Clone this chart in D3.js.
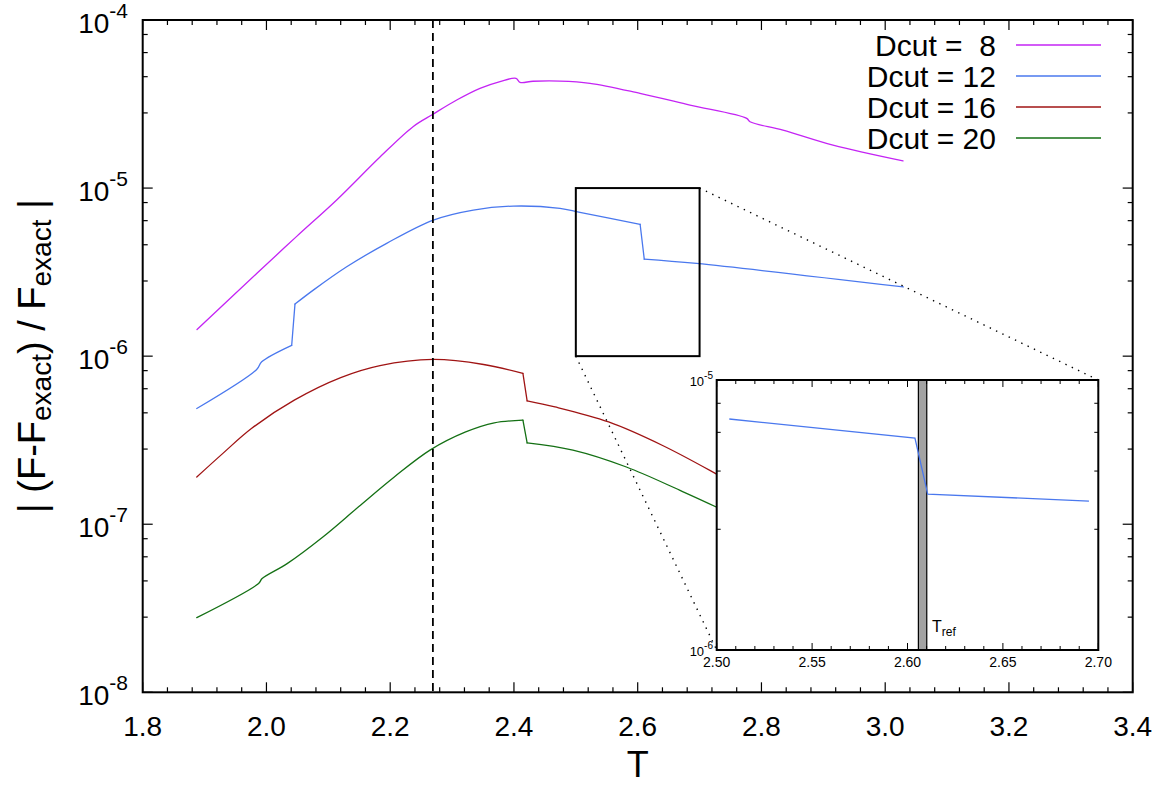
<!DOCTYPE html>
<html>
<head>
<meta charset="utf-8">
<script src="https://cdn.jsdelivr.net/npm/d3@7"></script>
<style>
  html, body { margin: 0; padding: 0; background: #fff; }
  svg { display: block; font-family: "Liberation Sans", Arial, Helvetica, sans-serif; }
  text { white-space: pre; }
</style>
</head>
<body>
<svg id="chart" width="1170" height="785"></svg>
<script>
// ---------------- data ----------------
const seriesNames = ["Dcut =  8", "Dcut = 12", "Dcut = 16", "Dcut = 20"];
const seriesColors = ["#c424f4", "#4a78ee", "#a01414", "#147014"];

const T8 = [1.8878, 1.9842, 2.0489, 2.1135, 2.1835, 2.2369, 2.2692, 2.3075, 2.3451, 2.3775, 2.4033, 2.4098, 2.4308, 2.4744, 2.5229, 2.6037, 2.6845, 2.7762, 2.7815, 2.8348, 2.9156, 3.0288];
const V8 = [1.44e-6, 3.10e-6, 5.16e-6, 8.49e-6, 1.53e-5, 2.32e-5, 2.75e-5, 3.34e-5, 3.92e-5, 4.30e-5, 4.50e-5, 4.26e-5, 4.32e-5, 4.33e-5, 4.20e-5, 3.66e-5, 3.12e-5, 2.60e-5, 2.48e-5, 2.21e-5, 1.80e-5, 1.45e-5];

const T12 = [1.8874, 1.9842, 1.9923, 2.0408, 2.0461, 2.0757, 2.1297, 2.1943, 2.2697, 2.3343, 2.3989, 2.4744, 2.5066, 2.6039, 2.6106, 2.6951, 3.0293];
const V12 = [4.88e-7, 8.33e-7, 9.25e-7, 1.16e-6, 2.04e-6, 2.47e-6, 3.40e-6, 4.69e-6, 6.45e-6, 7.40e-6, 7.81e-6, 7.57e-6, 7.17e-6, 6.09e-6, 3.78e-6, 3.56e-6, 2.58e-6];

const T16 = [1.8874, 1.9296, 1.9757, 2.0450, 2.1200, 2.1835, 2.2692, 2.3509, 2.4145, 2.4213, 2.4663, 2.5530, 2.6394, 2.7261, 2.85, 3.03];
const V16 = [1.91e-7, 2.64e-7, 3.71e-7, 5.47e-7, 7.45e-7, 8.78e-7, 9.56e-7, 8.92e-7, 7.89e-7, 5.42e-7, 4.99e-7, 4.06e-7, 2.95e-7, 2.00e-7, 1.10e-7, 5.0e-8];

const T20 = [1.8874, 1.9873, 1.9930, 2.0334, 2.0912, 2.1489, 2.2066, 2.2643, 2.3220, 2.3682, 2.4145, 2.4213, 2.4953, 2.5817, 2.6684, 2.7261, 2.85, 3.03];
const V20 = [2.78e-8, 4.44e-8, 4.75e-8, 5.83e-8, 8.40e-8, 1.27e-7, 1.91e-7, 2.76e-7, 3.54e-7, 4.01e-7, 4.16e-7, 3.05e-7, 2.76e-7, 2.19e-7, 1.59e-7, 1.27e-7, 7.5e-8, 3.5e-8];

const xTickValues = [1.8, 2.0, 2.2, 2.4, 2.6, 2.8, 3.0, 3.2, 3.4];
const xTickLabels = ["1.8", "2.0", "2.2", "2.4", "2.6", "2.8", "3.0", "3.2", "3.4"];
const yTickExponents = [-8, -7, -6, -5, -4];
const minorMantissas = [2.8, 4.6, 6.4, 8.2];

const Tc = 2.269;                    // dashed vertical line
const zoomBoxT = [2.5, 2.7];         // zoom window in T
const zoomBoxV = [1e-6, 1e-5];       // zoom window in value
const insetTickValues = [2.50, 2.55, 2.60, 2.65, 2.70];
const insetTickLabels = ["2.50", "2.55", "2.60", "2.65", "2.70"];
const insetYExponents = [-6, -5];
const Tref = [2.6057, 2.6101];       // grey band in inset

// ---------------- layout ----------------
const svg = d3.select("#chart");
svg.append("rect").attr("width", 1170).attr("height", 785).attr("fill", "#fff");

const M = { left: 142.7, right: 1132.7, top: 20, bottom: 692.3 };
const x = d3.scaleLinear().domain([1.8, 3.4]).range([M.left, M.right]);
const y = d3.scaleLog().domain([1e-8, 1e-4]).range([M.bottom, M.top]);

const series = [
  { name: seriesNames[0], color: seriesColors[0], data: d3.zip(T8, V8) },
  { name: seriesNames[1], color: seriesColors[1], data: d3.zip(T12, V12) },
  { name: seriesNames[2], color: seriesColors[2], data: d3.zip(T16, V16) },
  { name: seriesNames[3], color: seriesColors[3], data: d3.zip(T20, V20) }
];

// ---------- curves (smooth runs, straight jumps) ----------
const smooth = d3.line().x(d => x(d[0])).y(d => y(d[1])).curve(d3.curveCatmullRom.alpha(0.5));
const straight = d3.line().x(d => x(d[0])).y(d => y(d[1]));
const gCurves = svg.append("g");
series.forEach(s => {
  const runs = [], jumps = [];
  let cur = [s.data[0]];
  for (let i = 1; i < s.data.length; i++) {
    const a = s.data[i - 1], b = s.data[i];
    const dx = Math.abs(x(b[0]) - x(a[0])), dy = Math.abs(y(b[1]) - y(a[1]));
    if (dx < 8 && dy > 10) { runs.push(cur); jumps.push([a, b]); cur = [b]; }
    else cur.push(b);
  }
  runs.push(cur);
  runs.forEach(r => gCurves.append("path").attr("d", smooth(r)).attr("fill", "none")
    .attr("stroke", s.color).attr("stroke-width", 1.3).attr("stroke-linecap", "round"));
  jumps.forEach(j => gCurves.append("path").attr("d", straight(j)).attr("fill", "none")
    .attr("stroke", s.color).attr("stroke-width", 1.3).attr("stroke-linecap", "round"));
});

// ---------- dashed Tc line ----------
svg.append("line").attr("x1", x(Tc)).attr("x2", x(Tc)).attr("y1", M.top).attr("y2", M.bottom)
  .attr("stroke", "#000").attr("stroke-width", 1.8).attr("stroke-dasharray", "8,5");

// ---------- frame and ticks ----------
const gAxes = svg.append("g");
const majorLen = 10, minorLen = 5;
const xMinor = d3.range(0, 41).map(i => 1.8 + i * 0.04).filter((v, i) => i % 5 !== 0);
function tickX(v, len) {
  gAxes.append("line").attr("x1", x(v)).attr("x2", x(v)).attr("y1", M.bottom).attr("y2", M.bottom - len)
    .attr("stroke", "#000").attr("stroke-width", 1.2);
  gAxes.append("line").attr("x1", x(v)).attr("x2", x(v)).attr("y1", M.top).attr("y2", M.top + len)
    .attr("stroke", "#000").attr("stroke-width", 1.2);
}
function tickY(v, len) {
  gAxes.append("line").attr("x1", M.left).attr("x2", M.left + len).attr("y1", y(v)).attr("y2", y(v))
    .attr("stroke", "#000").attr("stroke-width", 1.2);
  gAxes.append("line").attr("x1", M.right).attr("x2", M.right - len).attr("y1", y(v)).attr("y2", y(v))
    .attr("stroke", "#000").attr("stroke-width", 1.2);
}
xTickValues.forEach(v => tickX(v, majorLen));
xMinor.forEach(v => tickX(v, minorLen));
yTickExponents.forEach(e => tickY(Math.pow(10, e), majorLen));
yTickExponents.slice(0, -1).forEach(e => minorMantissas.forEach(m => tickY(m * Math.pow(10, e), minorLen)));

gAxes.append("rect").attr("x", M.left).attr("y", M.top).attr("width", M.right - M.left).attr("height", M.bottom - M.top)
  .attr("fill", "none").attr("stroke", "#000").attr("stroke-width", 2);

// tick labels
xTickValues.forEach((v, i) => {
  svg.append("text").attr("x", x(v)).attr("y", 736).attr("text-anchor", "middle")
    .attr("font-size", 28).attr("fill", "#000").text(xTickLabels[i]);
});
yTickExponents.forEach(e => {
  const t = svg.append("text").attr("x", 128).attr("y", y(Math.pow(10, e)) + 13)
    .attr("text-anchor", "end").attr("fill", "#000");
  t.append("tspan").attr("font-size", 28).text("10");
  t.append("tspan").attr("font-size", 21).attr("dy", -15).text(String(e));
});

// axis titles
svg.append("text").attr("x", (M.left + M.right) / 2).attr("y", 777).attr("text-anchor", "middle")
  .attr("font-size", 36).attr("fill", "#000").text("T");
const yt = svg.append("text").attr("transform", `translate(45,${(M.top + M.bottom) / 2}) rotate(-90)`)
  .attr("text-anchor", "middle").attr("fill", "#000").attr("font-size", 38);
yt.append("tspan").text("| (F-F");
yt.append("tspan").attr("font-size", 28).attr("dy", 6).text("exact");
yt.append("tspan").attr("dy", -6).text(") / F");
yt.append("tspan").attr("font-size", 28).attr("dy", 6).text("exact");
yt.append("tspan").attr("dy", -6).text(" |");

// ---------- legend ----------
const legY0 = 45, legDy = 31;
series.forEach((s, i) => {
  const ly = legY0 + i * legDy;
  svg.append("text").attr("x", 996).attr("y", ly + 11).attr("text-anchor", "end")
    .attr("font-size", 30).attr("fill", "#000").text(s.name);
  svg.append("line").attr("x1", 1016).attr("x2", 1101).attr("y1", ly).attr("y2", ly)
    .attr("stroke", s.color).attr("stroke-width", 1.3);
});

// ---------- zoom box ----------
const bx0 = x(zoomBoxT[0]), bx1 = x(zoomBoxT[1]), by0 = y(zoomBoxV[1]), by1 = y(zoomBoxV[0]);
svg.append("rect").attr("x", bx0).attr("y", by0).attr("width", bx1 - bx0).attr("height", by1 - by0)
  .attr("fill", "none").attr("stroke", "#000").attr("stroke-width", 2);

// ---------- inset ----------
const I = { left: 716.7, right: 1098.3, top: 380, bottom: 650 };
const ix = d3.scaleLinear().domain(zoomBoxT).range([I.left, I.right]);
const iy = d3.scaleLog().domain(zoomBoxV).range([I.bottom, I.top]);

// dotted connectors
svg.append("line").attr("x1", bx1).attr("y1", by0).attr("x2", I.right).attr("y2", I.top)
  .attr("stroke", "#000").attr("stroke-width", 1.4).attr("stroke-dasharray", "1.4,5.6");
svg.append("line").attr("x1", bx0).attr("y1", by1).attr("x2", I.left).attr("y2", I.bottom)
  .attr("stroke", "#000").attr("stroke-width", 1.4).attr("stroke-dasharray", "1.4,5.6");

const gI = svg.append("g");
gI.append("rect").attr("x", I.left).attr("y", I.top).attr("width", I.right - I.left).attr("height", I.bottom - I.top)
  .attr("fill", "#fff");

// grey Tref band
gI.append("rect").attr("x", ix(Tref[0])).attr("y", I.top).attr("width", ix(Tref[1]) - ix(Tref[0]))
  .attr("height", I.bottom - I.top).attr("fill", "#a3a3a3").attr("stroke", "#000").attr("stroke-width", 1.2);

// inset blue series (points within window)
const insetData = series[1].data.filter(d => d[0] >= zoomBoxT[0] && d[0] <= zoomBoxT[1]);
gI.append("path").attr("d", d3.line().x(d => ix(d[0])).y(d => iy(d[1]))(insetData))
  .attr("fill", "none").attr("stroke", series[1].color).attr("stroke-width", 1.3);

// inset ticks
const iMaj = 7, iMin = 4;
const iMinor = d3.range(0, 21).map(i => 2.5 + i * 0.01).filter((v, i) => i % 5 !== 0);
function iTickX(v, len) {
  gI.append("line").attr("x1", ix(v)).attr("x2", ix(v)).attr("y1", I.bottom).attr("y2", I.bottom - len).attr("stroke", "#000");
  gI.append("line").attr("x1", ix(v)).attr("x2", ix(v)).attr("y1", I.top).attr("y2", I.top + len).attr("stroke", "#000");
}
function iTickY(v, len) {
  gI.append("line").attr("x1", I.left).attr("x2", I.left + len).attr("y1", iy(v)).attr("y2", iy(v)).attr("stroke", "#000");
  gI.append("line").attr("x1", I.right).attr("x2", I.right - len).attr("y1", iy(v)).attr("y2", iy(v)).attr("stroke", "#000");
}
insetTickValues.forEach(v => iTickX(v, iMaj));
iMinor.forEach(v => iTickX(v, iMin));
minorMantissas.forEach(m => iTickY(m * 1e-6, iMin));

gI.append("rect").attr("x", I.left).attr("y", I.top).attr("width", I.right - I.left).attr("height", I.bottom - I.top)
  .attr("fill", "none").attr("stroke", "#000").attr("stroke-width", 2);

insetTickValues.forEach((v, i) => {
  gI.append("text").attr("x", ix(v)).attr("y", 667).attr("text-anchor", "middle")
    .attr("font-size", 14).attr("fill", "#000").text(insetTickLabels[i]);
});
insetYExponents.forEach(e => {
  const t = gI.append("text").attr("x", 713).attr("y", iy(Math.pow(10, e)) + 6)
    .attr("text-anchor", "end").attr("fill", "#000");
  t.append("tspan").attr("font-size", 13).text("10");
  t.append("tspan").attr("font-size", 10).attr("dy", -7).text(String(e));
});

// Tref label
const tr = gI.append("text").attr("x", 932).attr("y", 632).attr("fill", "#000").attr("font-size", 16);
tr.append("tspan").text("T");
tr.append("tspan").attr("font-size", 12).attr("dy", 4).text("ref");
</script>
</body>
</html>
